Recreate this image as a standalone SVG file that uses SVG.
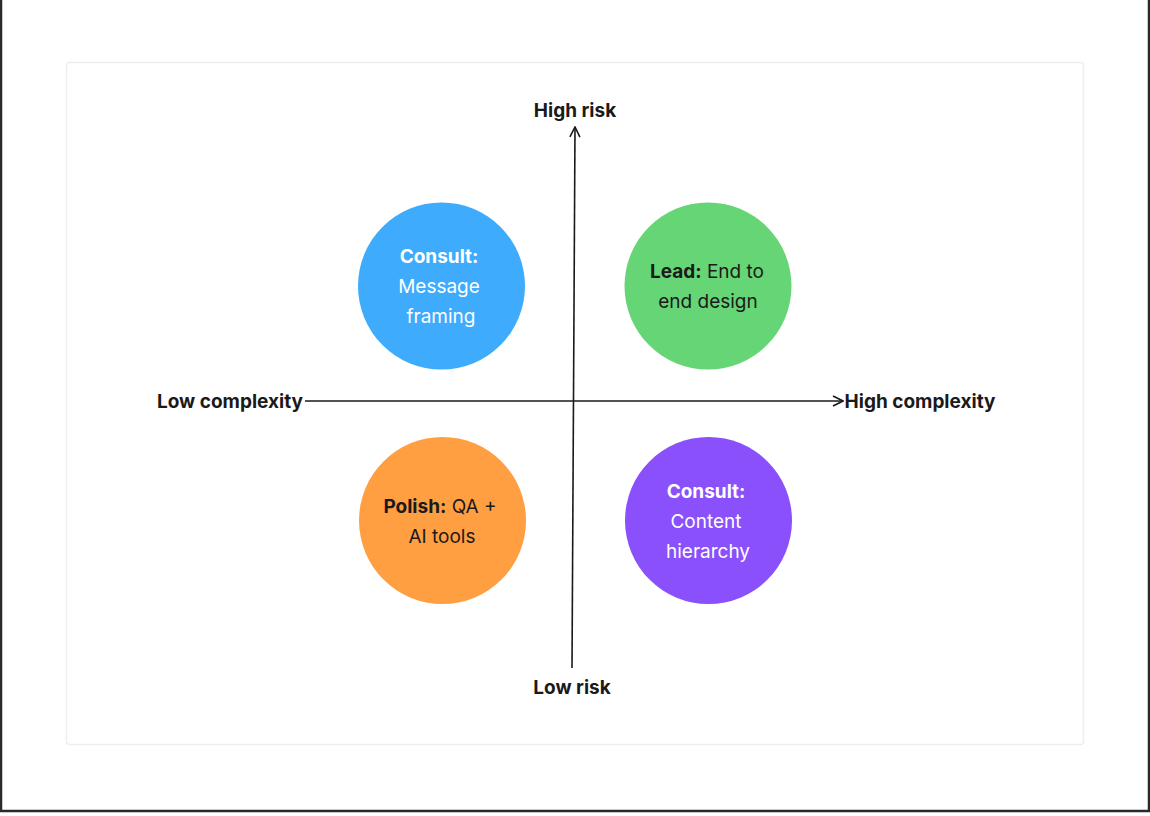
<svg xmlns="http://www.w3.org/2000/svg" width="1150" height="816" viewBox="0 0 1150 816">
<defs>
<style>
.t{font-family:Inter,"Noto Sans","Liberation Sans",sans-serif;font-size:19px;fill:#1a1a1a;text-anchor:middle}
.b{font-weight:700}
.w{fill:#ffffff}
.ax{stroke:#1a1a1a;stroke-width:1.6;fill:none}
</style>
<marker id="arr" viewBox="0 0 12 12" refX="11" refY="6" markerWidth="12" markerHeight="12" markerUnits="userSpaceOnUse" orient="auto">
<path d="M1,1 L11,6 L1,11" fill="none" stroke="#1a1a1a" stroke-width="1.6"/>
</marker>
</defs>
<rect x="0" y="0" width="1150" height="816" fill="#ffffff"/>
<rect x="1" y="-10" width="1148" height="821" fill="none" stroke="#2a2a2e" stroke-width="2.5"/>
<rect x="66.5" y="62.5" width="1017" height="682" rx="3" fill="#ffffff" stroke="#eeeeee" stroke-width="1.5"/>
<g id="connectors">
<line class="ax" x1="572" y1="668" x2="575" y2="127" marker-end="url(#arr)"/>
<line class="ax" x1="305" y1="401" x2="843" y2="401" marker-end="url(#arr)"/>
</g>
<g id="axis-labels">
<text class="t b" x="575" y="117">High risk</text>
<text class="t b" x="572" y="694">Low risk</text>
<text class="t b" x="230" y="408">Low complexity</text>
<text class="t b" x="920" y="408">High complexity</text>
</g>
<g id="consult-message">
<circle cx="441.5" cy="286" r="83.5" fill="#3eabfc"/>
<text class="t w b" x="439" y="263">Consult:</text>
<text class="t w" x="439" y="293">Message</text>
<text class="t w" x="441" y="323">framing</text>
</g>
<g id="lead">
<circle cx="708" cy="286" r="83.5" fill="#66d575"/>
<text class="t" x="707" y="278"><tspan class="b">Lead:</tspan> End to</text>
<text class="t" x="708" y="308">end design</text>
</g>
<g id="polish">
<circle cx="442.5" cy="520.5" r="83.5" fill="#ff9f42"/>
<text class="t" x="440" y="513"><tspan class="b">Polish:</tspan> QA +</text>
<text class="t" x="442" y="543">AI tools</text>
</g>
<g id="consult-content">
<circle cx="708.5" cy="520.5" r="83.5" fill="#8950fc"/>
<text class="t w b" x="706" y="498">Consult:</text>
<text class="t w" x="706" y="528">Content</text>
<text class="t w" x="708" y="558">hierarchy</text>
</g>
</svg>
